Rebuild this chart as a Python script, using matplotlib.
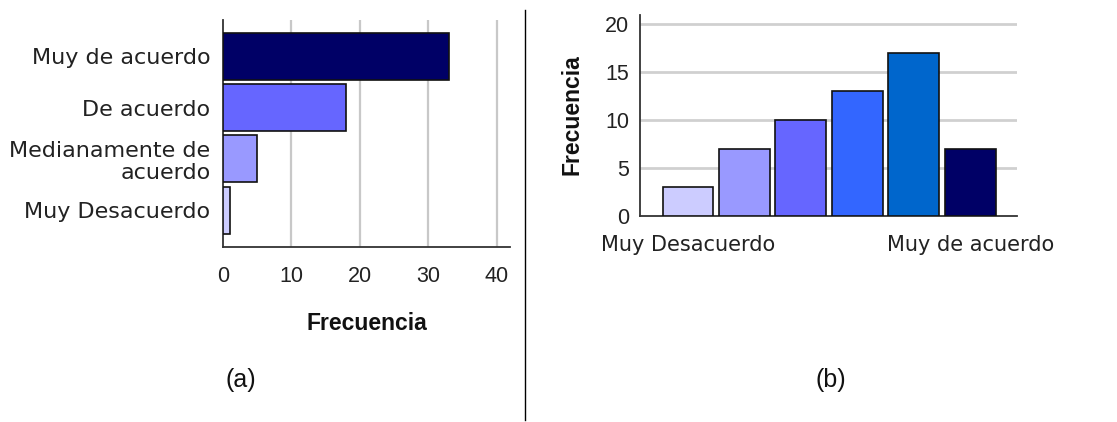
import matplotlib
matplotlib.use("Agg")
import matplotlib.pyplot as plt
from matplotlib.lines import Line2D

# ---- data ----
cats_a = ["Muy Desacuerdo", "Medianamente de\nacuerdo", "De acuerdo", "Muy de acuerdo"]
freq_a = [1, 5, 18, 33]
colors_a = ["#CCCCFF", "#9999FF", "#6666FF", "#000066"]

cats_b = ["Muy Desacuerdo", "", "", "", "", "Muy de acuerdo"]
freq_b = [3, 7, 10, 13, 17, 7]
colors_b = ["#CCCCFF", "#9999FF", "#6666FF", "#3366FF", "#0066CC", "#000066"]

xticks_a = [0, 10, 20, 30, 40]
yticks_b = [0, 5, 10, 15, 20]

W, H = 1117, 422
fig = plt.figure(figsize=(W / 100, H / 100), dpi=100)

def px_axes(x0, x1, ytop, ybot):
    return fig.add_axes([x0 / W, (H - ybot) / H, (x1 - x0) / W, (ybot - ytop) / H])

txt_a = dict(family="DejaVu Sans", size=16, color="#222222")
txt_b = dict(family="DejaVu Sans", size=15, color="#222222")
num = dict(family="Liberation Sans", size=15.5, color="#222222")
bold = dict(family="Liberation Sans", size=16.5, weight="bold", color="#111111")

# ---- (a) horizontal bars ----
ax1 = px_axes(223, 510, 20, 247)
ypos = list(range(len(cats_a)))
ax1.barh(ypos, freq_a, height=0.92, color=colors_a, edgecolor="#111111", linewidth=1.2, zorder=3)
ax1.set_xlim(0, 41.9)
ax1.set_ylim(-0.72, 3.71)
ax1.set_xticks(xticks_a)
ax1.set_xticklabels([str(t) for t in xticks_a], **num)
ax1.set_yticks(ypos)
ax1.set_yticklabels(cats_a, linespacing=1.12, **txt_a)
ax1.tick_params(axis="x", length=0, pad=14)
ax1.tick_params(axis="y", length=0, pad=9)
for g in xticks_a[1:]:
    ax1.axvline(g, color="#c8c8c8", lw=1.6, zorder=1)
for s in ["top", "right"]:
    ax1.spines[s].set_visible(False)
for s in ["left", "bottom"]:
    ax1.spines[s].set_color("#333333")
    ax1.spines[s].set_linewidth(1.3)
fig.text(367 / W, 1 - 323 / H, "Frecuencia", ha="center", va="center", **bold)

# ---- (b) vertical bars ----
ax2 = px_axes(640, 1017, 15, 216)
xpos = list(range(len(freq_b)))
ax2.bar(xpos, freq_b, width=0.9, color=colors_b, edgecolor="#111111", linewidth=1.2, zorder=3)
ax2.set_xlim(-0.85, 5.83)
ax2.set_ylim(0, 20.9)
ax2.set_yticks(yticks_b)
ax2.set_yticklabels([str(t) for t in yticks_b], **num)
ax2.set_xticks(xpos)
ax2.set_xticklabels(cats_b, **txt_b)
ax2.tick_params(axis="x", length=0, pad=14)
ax2.tick_params(axis="y", length=0, pad=8)
for g in yticks_b[1:]:
    ax2.axhline(g, color="#d0d0d0", lw=2, zorder=1)
for s in ["top", "right"]:
    ax2.spines[s].set_visible(False)
for s in ["left", "bottom"]:
    ax2.spines[s].set_color("#333333")
    ax2.spines[s].set_linewidth(1.3)
fig.text(572 / W, 1 - 115 / H, "Frecuencia", ha="center", va="center", rotation=90, **bold)

# ---- separator and panel labels ----
fig.add_artist(Line2D([525 / W, 525 / W], [1 - 10 / H, 1 - 420 / H], color="#000000", lw=1.0))
fig.text(241 / W, 1 - 380 / H, "(a)", ha="center", va="center", family="Liberation Sans", size=18, color="#111111")
fig.text(831 / W, 1 - 380 / H, "(b)", ha="center", va="center", family="Liberation Sans", size=18, color="#111111")

fig.savefig("out.png", dpi=100)
